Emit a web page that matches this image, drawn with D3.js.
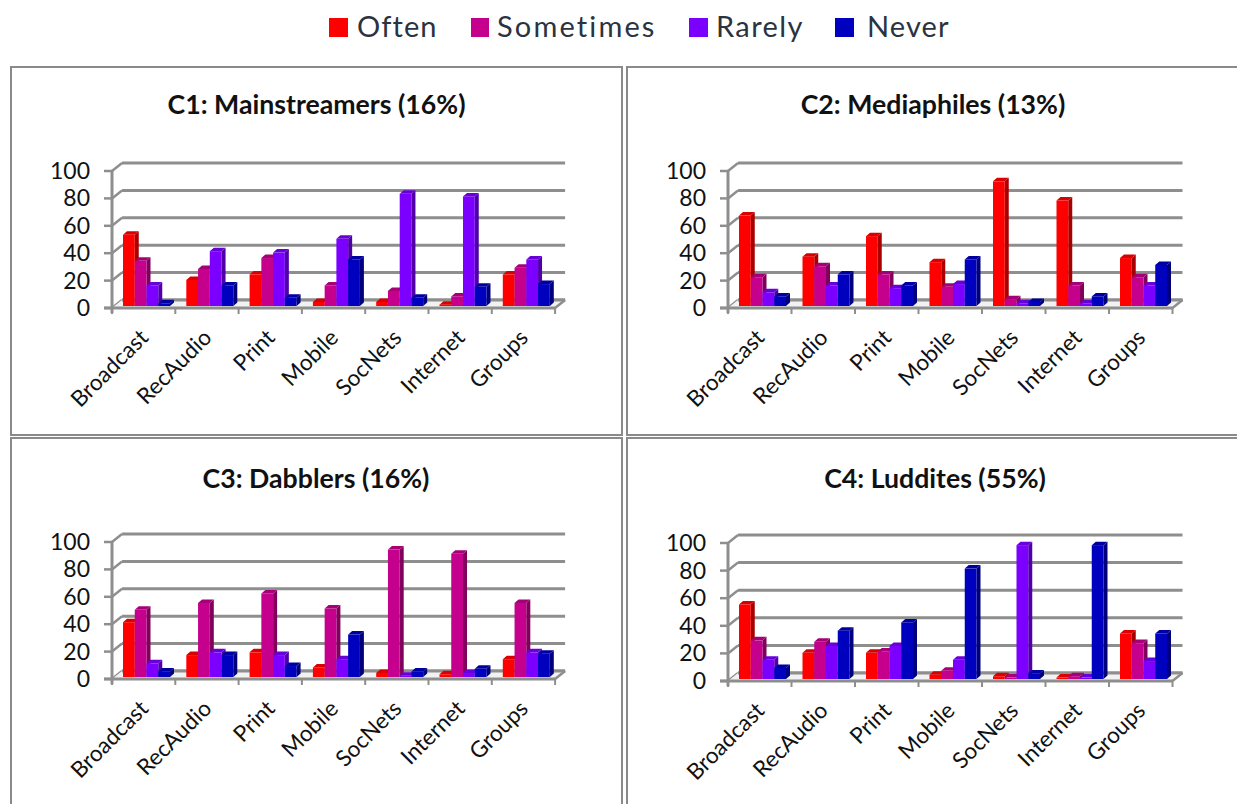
<!DOCTYPE html>
<html><head><meta charset="utf-8">
<script src="https://cdn.jsdelivr.net/npm/d3@7/dist/d3.min.js"></script>
<style>html,body{margin:0;padding:0;background:#fff;overflow:hidden}svg{display:block}text{font-family:Lato,"Open Sans",sans-serif;fill:#111}</style>
</head><body><svg id="c" width="1237" height="804"></svg>
<script>
const categories = ["Broadcast","RecAudio","Print","Mobile","SocNets","Internet","Groups"];
const seriesNames = ["Often","Sometimes","Rarely","Never"];
const yTicks = [0,20,40,60,80,100];
const titles = ["C1: Mainstreamers (16%)","C2: Mediaphiles (13%)","C3: Dabblers (16%)","C4: Luddites (55%)"];
const c1 = [[52,33,15,2],[19,27,40,15],[23,35,39,6],[3,15,49,34],[3,11,82,6],[1,7,80,14],[23,28,34,16]];
const c2 = [[66,21,10,7],[36,29,15,23],[51,23,13,15],[32,14,16,34],[91,5,2,3],[77,15,2,7],[35,21,15,30]];
const c3 = [[40,49,10,4],[16,54,18,16],[18,61,16,8],[7,50,13,31],[3,93,1,4],[2,90,3,6],[13,54,18,17]];
const c4 = [[54,28,14,8],[19,27,24,35],[19,20,24,41],[3,6,14,80],[2,1,97,4],[1,2,1,97],[33,26,13,33]];
const panelData = [c1,c2,c3,c4];
const colors = ["#ff0000","#c4008c","#7b00ff","#0000bf"];
const sideColors = ["#a80000","#80005c","#4f00a6","#00007c"];
const topColors = ["#d80000","#a60078","#6800d8","#0000a2"];

const panelBoxes = [
 {x:11,y:67,w:611,h:368,ax:112,y0:308,y100:171,ty:105,tx:316.5,step:63.3},
 {x:627,y:67,w:640,h:368,ax:728,y0:308,y100:171,ty:105,tx:933,step:63.5},
 {x:11,y:438,w:611,h:400,ax:112,y0:679,y100:542,ty:479,tx:316,step:63.3},
 {x:627,y:438,w:640,h:400,ax:728,y0:681,y100:543,ty:479,tx:935,step:63.5}
];
const legendX = [329,471,689,835], legendTX=[357,497,716,867], legendSpacing=[1.1,2.15,1.4,1.1];
const svg = d3.select("#c");
const grid = "#8e8e8e";

const lg = svg.append("g");
seriesNames.forEach((s,i)=>{
  lg.append("rect").attr("x",legendX[i]).attr("y",18).attr("width",i==1?18:19).attr("height",19).attr("fill",colors[i]);
  lg.append("text").attr("x",legendTX[i]).attr("y",37).attr("font-size",29).style("letter-spacing",legendSpacing[i]+"px").style("fill","#2a3340").text(s);
});

panelBoxes.forEach((b,pi)=>{
  const g = svg.append("g");
  const W = 7*b.step;
  g.append("rect").attr("x",b.x).attr("y",b.y).attr("width",b.w).attr("height",b.h).attr("fill","#fff").attr("stroke","#8a8a8a").attr("stroke-width",2);
  g.append("text").attr("x",b.tx).attr("y",b.ty+9).attr("text-anchor","middle").attr("font-size",26.7).attr("font-weight",700).style("fill","#111").text(titles[pi]);
  const dx=10, dy=-8;
  const y = d3.scaleLinear().domain([0,100]).range([b.y0,b.y100]);
  const x = d3.scaleBand().domain(categories).range([b.ax,b.ax+W]);
  const inner = d3.scaleBand().domain(seriesNames).range([0,47]);
  yTicks.forEach(t=>{
    g.append("line").attr("x1",b.ax+dx).attr("x2",b.ax+W+dx).attr("y1",y(t)+dy).attr("y2",y(t)+dy).attr("stroke",grid).attr("stroke-width",3);
    g.append("line").attr("x1",b.ax).attr("x2",b.ax+dx).attr("y1",y(t)).attr("y2",y(t)+dy).attr("stroke",grid).attr("stroke-width",2.5);
    g.append("line").attr("x1",b.ax-8).attr("x2",b.ax).attr("y1",y(t)).attr("y2",y(t)).attr("stroke",grid).attr("stroke-width",2.5);
    g.append("text").attr("x",b.ax-22).attr("y",y(t)+8).attr("text-anchor","end").attr("font-size",23).text(t);
  });
  g.append("polygon").attr("points",[[b.ax,b.y0],[b.ax+dx,b.y0+dy],[b.ax+W+dx,b.y0+dy],[b.ax+W,b.y0]].join(" ")).attr("fill","#f2f2f2").attr("stroke","none");
  g.append("line").attr("x1",b.ax+dx).attr("x2",b.ax+W+dx).attr("y1",b.y0+dy).attr("y2",b.y0+dy).attr("stroke",grid).attr("stroke-width",3);
  const bd=4, bdy=-3.5, inset=2;
  panelData[pi].forEach((vals,ci)=>{
    const gx = x(categories[ci])+11;
    vals.forEach((v,si)=>{
      const bx = gx+inner(seriesNames[si]), w=inner.bandwidth();
      const yb = y(0)-inset, yt = y(v)-inset;
      g.append("polygon").attr("fill",sideColors[si]).attr("points",[[bx+w,yb],[bx+w+bd,yb+bdy],[bx+w+bd,yt+bdy],[bx+w,yt]].join(" "));
      g.append("polygon").attr("fill",topColors[si]).attr("points",[[bx,yt],[bx+bd,yt+bdy],[bx+w+bd,yt+bdy],[bx+w,yt]].join(" "));
      g.append("rect").attr("x",bx).attr("y",yt).attr("width",w).attr("height",Math.max(0,yb-yt)).attr("fill",colors[si]);
    });
  });
  g.append("line").attr("x1",b.ax).attr("x2",b.ax).attr("y1",b.y100).attr("y2",b.y0+5).attr("stroke",grid).attr("stroke-width",3);
  g.append("line").attr("x1",b.ax-8).attr("x2",b.ax+W).attr("y1",b.y0).attr("y2",b.y0).attr("stroke",grid).attr("stroke-width",3);
  g.append("line").attr("x1",b.ax+W).attr("x2",b.ax+W+dx).attr("y1",b.y0).attr("y2",b.y0+dy).attr("stroke",grid).attr("stroke-width",2.5);
  categories.forEach((c,ci)=>{
    const tx=b.ax+ci*b.step;
    g.append("line").attr("x1",tx).attr("x2",tx).attr("y1",b.y0).attr("y2",b.y0+6).attr("stroke",grid).attr("stroke-width",2);
    const lx = x(c)+x.bandwidth()/2+6, ly=b.y0+31;
    g.append("text").attr("transform",`translate(${lx},${ly}) rotate(-45)`).attr("text-anchor","end").attr("font-size",22.5).text(c);
  });
  g.append("line").attr("x1",b.ax+W).attr("x2",b.ax+W).attr("y1",b.y0).attr("y2",b.y0+6).attr("stroke",grid).attr("stroke-width",2);
});
</script></body></html>
